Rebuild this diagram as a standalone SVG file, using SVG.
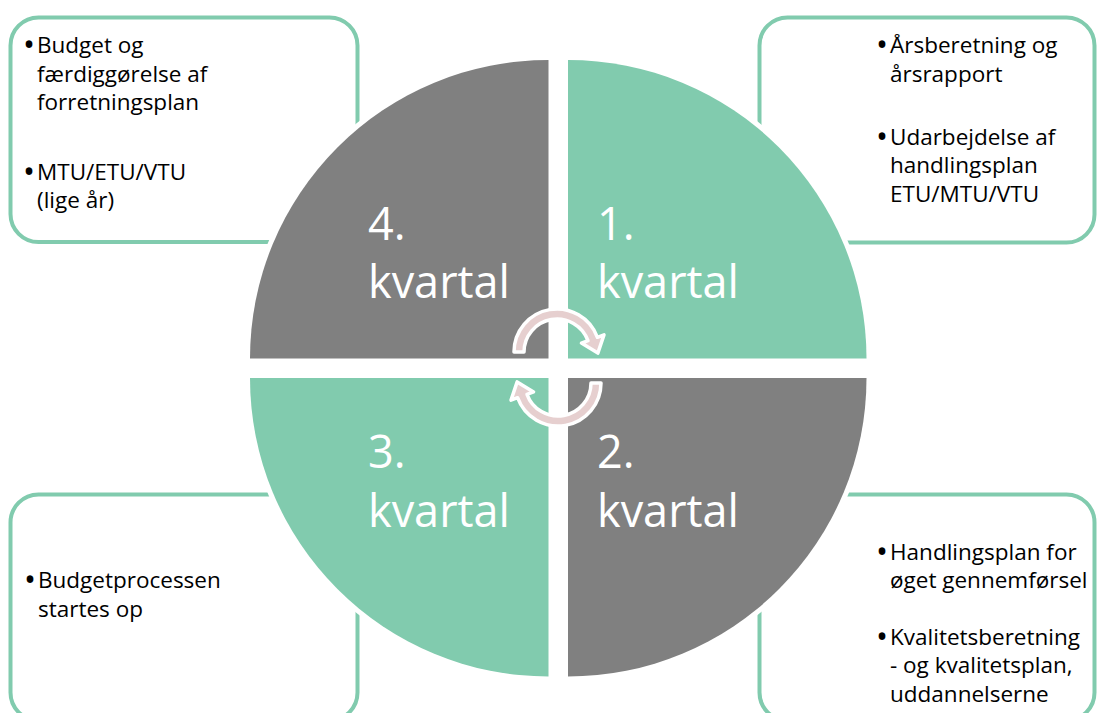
<svg xmlns="http://www.w3.org/2000/svg" width="1097" height="713" viewBox="0 0 1097 713">
<style>
.box{fill:#fff;stroke:#81CBAE;stroke-width:4}
.q{stroke:#fff;stroke-width:10;paint-order:stroke}
.green{fill:#81CBAE}
.gray{fill:#808080}
.t{font-family:"Open Sans","Liberation Sans",sans-serif;font-size:22.5px;fill:#000}
.b{font-family:"Open Sans","Liberation Sans",sans-serif;font-size:32px;fill:#000}
.lbl{font-family:"Open Sans","Liberation Sans",sans-serif;font-size:45px;fill:#fff}
.arr{fill:#E6CFCF;stroke:#fff;stroke-width:3.5;stroke-linejoin:round}
</style>
<rect width="1097" height="713" fill="#fff"/>
<g id="box-q4">
<rect class="box" x="10.5" y="17.5" width="347" height="224.5" rx="28"/>
<text class="b" x="23" y="56">•</text>
<text class="t" x="37" y="53">Budget og</text>
<text class="t" x="37" y="82">færdiggørelse af</text>
<text class="t" x="37" y="110">forretningsplan</text>
<text class="b" x="23" y="183">•</text>
<text class="t" x="37" y="180">MTU/ETU/VTU</text>
<text class="t" x="37" y="208">(lige år)</text>
</g>
<g id="box-q1">
<rect class="box" x="759.5" y="17.5" width="335" height="225" rx="28"/>
<text class="b" x="876" y="56">•</text>
<text class="t" x="890" y="53">Årsberetning og</text>
<text class="t" x="890" y="82">årsrapport</text>
<text class="b" x="876" y="148">•</text>
<text class="t" x="890" y="145">Udarbejdelse af</text>
<text class="t" x="890" y="173">handlingsplan</text>
<text class="t" x="890" y="202">ETU/MTU/VTU</text>
</g>
<g id="box-q3">
<rect class="box" x="10.5" y="494.5" width="347" height="226" rx="28"/>
<text class="b" x="24" y="591">•</text>
<text class="t" x="38" y="588">Budgetprocessen</text>
<text class="t" x="38" y="617">startes op</text>
</g>
<g id="box-q2">
<rect class="box" x="759.5" y="494.5" width="335" height="226" rx="28"/>
<text class="b" x="876" y="563">•</text>
<text class="t" x="890" y="560">Handlingsplan for</text>
<text class="t" x="890" y="588">øget gennemførsel</text>
<text class="b" x="876" y="648">•</text>
<text class="t" x="890" y="645">Kvalitetsberetning</text>
<text class="t" x="890" y="673">- og kvalitetsplan,</text>
<text class="t" x="890" y="702">uddannelserne</text>
</g>
<g id="quarter-4">
<path class="q gray" d="M548.5 358.5 L250 358.5 A298.5 298.5 0 0 1 548.5 60 Z"/>
<text class="lbl" x="368" y="240">4.</text>
<text class="lbl" x="368" y="298">kvartal</text>
</g>
<g id="quarter-1">
<path class="q green" d="M568 358.5 L568 60 A298.5 298.5 0 0 1 866.5 358.5 Z"/>
<text class="lbl" x="597" y="240">1.</text>
<text class="lbl" x="597" y="298">kvartal</text>
</g>
<g id="quarter-3">
<path class="q green" d="M548.5 378 L548.5 676.5 A298.5 298.5 0 0 1 250 378 Z"/>
<text class="lbl" x="368" y="468">3.</text>
<text class="lbl" x="368" y="527">kvartal</text>
</g>
<g id="quarter-2">
<path class="q gray" d="M568 378 L866.5 378 A298.5 298.5 0 0 1 568 676.5 Z"/>
<text class="lbl" x="597" y="468">2.</text>
<text class="lbl" x="597" y="527">kvartal</text>
</g>
<g id="connectors">
<path id="arrow-top" class="arr" d="M514 352 A43 43 0 0 1 597.41 337.29 L603.98 334.9 L597.84 353.1 L581.43 343.11 L588.01 340.71 A33 33 0 0 0 524 352 Z"/>
<path id="arrow-bottom" class="arr" transform="rotate(180 557.5 367.5)" d="M514 352 A43 43 0 0 1 597.41 337.29 L603.98 334.9 L597.84 353.1 L581.43 343.11 L588.01 340.71 A33 33 0 0 0 524 352 Z"/>
</g>
</svg>
